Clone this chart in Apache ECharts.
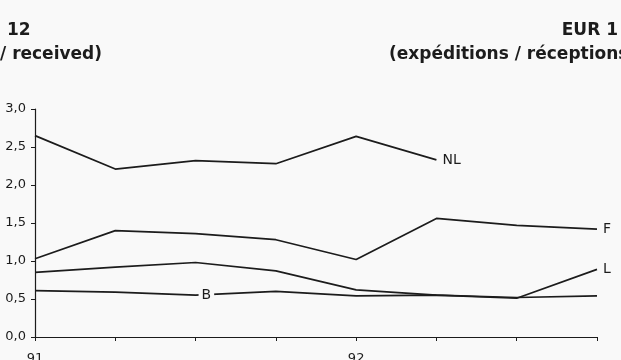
<!DOCTYPE html>
<html>
<head>
<meta charset="utf-8">
<script src="https://cdn.jsdelivr.net/npm/echarts@6/dist/echarts.min.js"></script>
<style>
  html, body { margin: 0; padding: 0; background: #f9f9f9; }
  #chart { width: 621px; height: 360px; }
</style>
</head>
<body>
<div id="chart"></div>
<script>
// quarters, only the first of each year is labelled
var quarters = ['91 T1', '91 T2', '91 T3', '91 T4', '92 T1', '92 T2', '92 T3', '92 T4'];
var quarterLabels = ['91', '', '', '', '92', '', '', ''];

var nl = [2.65, 2.21, 2.32, 2.28, 2.64, 2.33];
var f = [1.03, 1.40, 1.36, 1.28, 1.02, 1.56, 1.47, 1.42];
var l = [0.85, 0.92, 0.98, 0.87, 0.62, 0.55, 0.51, 0.89];
var b = [0.61, 0.59, 0.55, 0.60, 0.54, 0.55, 0.52, 0.54];

var ink = '#1c1c1c';
var bg = '#f9f9f9';

function mkLine(name, data, endLabel) {
  return {
    name: name,
    type: 'line',
    data: data,
    symbol: 'circle',
    symbolSize: 0,
    silent: true,
    lineStyle: { color: ink, width: 1.7 },
    endLabel: {
      show: endLabel,
      formatter: name,
      distance: 6,
      color: ink,
      fontFamily: 'DejaVu Sans',
      fontSize: 14
    }
  };
}

// B is labelled on the line itself, with the line broken round the letter
var bData = b.map(function (v, i) {
  if (i !== 2) return v;
  return {
    value: v,
    label: {
      show: true,
      formatter: 'B',
      position: 'right',
      distance: 3,
      padding: [0, 3],
      backgroundColor: bg,
      color: ink,
      fontFamily: 'DejaVu Sans',
      fontSize: 14
    }
  };
});

var myChart = echarts.init(document.getElementById('chart'));
var titleFont = { fontFamily: 'DejaVu Sans', fontWeight: 'bold', fontSize: 17, fill: ink };

var option = {
  backgroundColor: bg,
  animation: false,
  grid: { left: 35, right: 24, top: 109, bottom: 23, outerBoundsMode: 'none', containLabel: false },
  graphic: [
    { type: 'text', left: 7, top: 22, style: Object.assign({ text: '12' }, titleFont) },
    { type: 'text', left: 0, top: 46, style: Object.assign({ text: '/ received)' }, titleFont) },
    { type: 'text', right: 3, top: 22, style: Object.assign({ text: 'EUR 1' }, titleFont) },
    { type: 'text', x: 389, y: 46, style: Object.assign({ text: '(expéditions / réceptions)' }, titleFont) }
  ],
  xAxis: {
    type: 'category',
    data: quarters,
    boundaryGap: false,
    axisLine: { lineStyle: { color: ink, width: 1.2 } },
    axisTick: { show: true, length: 4, lineStyle: { color: ink }, interval: 0 },
    axisLabel: {
      interval: 0,
      margin: 15,
      color: ink,
      fontFamily: 'DejaVu Sans',
      fontSize: 13,
      formatter: function (v, i) { return quarterLabels[i]; }
    },
    splitLine: { show: false }
  },
  yAxis: {
    type: 'value',
    min: 0,
    max: 3,
    interval: 0.5,
    axisLine: { show: true, lineStyle: { color: ink, width: 1.2 } },
    axisTick: { show: true, length: 4, lineStyle: { color: ink } },
    axisLabel: {
      margin: 9,
      color: ink,
      fontFamily: 'DejaVu Sans',
      fontSize: 13,
      formatter: function (v) { return v.toFixed(1).replace('.', ','); }
    },
    splitLine: { show: false }
  },
  series: [
    mkLine('NL', nl, true),
    mkLine('F', f, true),
    mkLine('L', l, true),
    mkLine('B', bData, false)
  ]
};
myChart.setOption(option);
</script>
</body>
</html>
